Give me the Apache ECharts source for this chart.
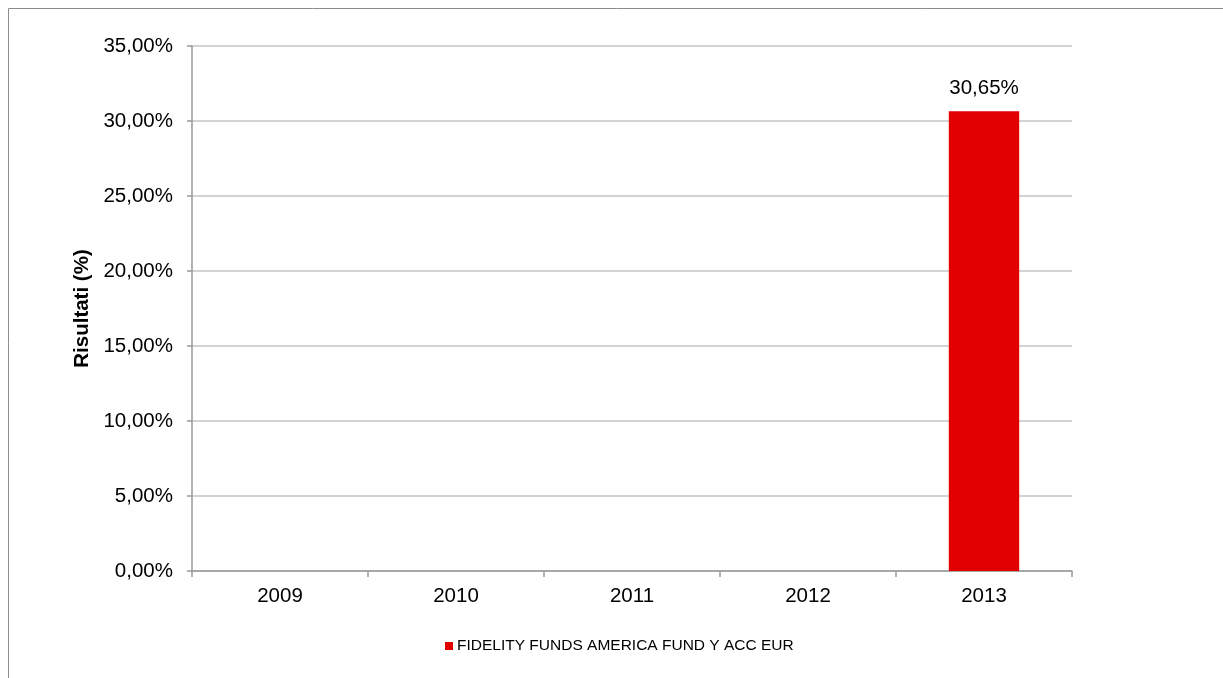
<!DOCTYPE html>
<html><head><meta charset="utf-8">
<script src="https://cdn.jsdelivr.net/npm/echarts@6/dist/echarts.min.js"></script>
<style>html,body{margin:0;padding:0;background:#fff}#c{width:1223px;height:678px}</style>
</head><body><div id="c"></div>
<script>
const categories = ['2009','2010','2011','2012','2013'];
const values = [null, null, null, null, 30.65];
const seriesName = 'FIDELITY FUNDS AMERICA FUND Y ACC EUR';
const yTicks = [0,5,10,15,20,25,30,35];
const fmt = v => v.toFixed(2).replace('.', ',') + '%';
const chart = echarts.init(document.getElementById('c'));
chart.setOption({
  animation: false,
  graphic: [{type:'rect', shape:{x:8.5,y:8.5,width:1300,height:800}, style:{fill:'none', stroke:'#8c8c8c', lineWidth:1}, silent:true}],
  grid: {left:192, right:151, top:46, bottom:107, containLabel:false},
  legend: {top:638, left:445, itemWidth:8, itemHeight:8, itemGap:4, icon:'rect', padding:0,
    textStyle:{fontFamily:'Liberation Sans, Arial', fontSize:15.5, color:'#000', padding:[0,0,0,-1]}, data:[seriesName]},
  xAxis: {type:'category', data:categories,
    axisLine:{lineStyle:{color:'#999', width:1.5}},
    axisTick:{show:true, length:6, lineStyle:{color:'#999', width:1.5}},
    axisLabel:{fontFamily:'Liberation Sans, Arial', fontSize:20.5, color:'#000', margin:15}},
  yAxis: {type:'value', min:0, max:35, interval:5,
    name:'Risultati (%)', nameLocation:'middle', nameGap:95, nameRotate:90,
    nameTextStyle:{fontFamily:'Liberation Sans, Arial', fontSize:20.5, fontWeight:'bold', color:'#000'},
    axisLine:{show:true, lineStyle:{color:'#999', width:1.5}},
    axisTick:{show:true, length:5, lineStyle:{color:'#999', width:1.5}},
    splitLine:{lineStyle:{color:'#c4c4c4', width:1.5}},
    axisLabel:{fontFamily:'Liberation Sans, Arial', fontSize:20.5, color:'#000', margin:19, formatter: v => fmt(v)}},
  series: [{name:seriesName, type:'bar', data:values, barWidth:'40%', itemStyle:{color:'#e00000'},
    label:{show:true, position:'top', distance:12, fontFamily:'Liberation Sans, Arial', fontSize:20.5, color:'#000',
      formatter: p => fmt(p.value)}}]
});
</script></body></html>
